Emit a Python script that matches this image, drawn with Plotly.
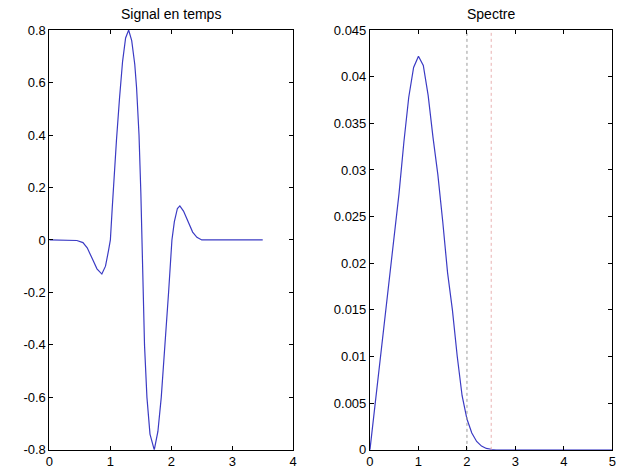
import plotly.graph_objects as go
from plotly.subplots import make_subplots

# signal en temps
t = [0.0, 0.30, 0.45, 0.55, 0.62, 0.70, 0.78, 0.86, 0.92, 0.97, 1.00,
     1.03, 1.06, 1.10, 1.15, 1.20, 1.25, 1.30, 1.35, 1.40, 1.43, 1.47,
     1.50, 1.52, 1.54, 1.56, 1.60, 1.65, 1.72, 1.78, 1.835, 1.90, 1.955,
     2.01, 2.05, 2.10, 2.14, 2.20, 2.27, 2.35, 2.42, 2.50, 3.50]
signal = [0.0, 0.0, -0.002, -0.01, -0.03, -0.07, -0.11, -0.13, -0.10, -0.04, 0.0,
          0.12, 0.25, 0.38, 0.54, 0.68, 0.77, 0.80, 0.76, 0.67, 0.58, 0.40,
          0.18, 0.0, -0.20, -0.40, -0.60, -0.74, -0.80, -0.73, -0.60, -0.40, -0.20,
          0.0, 0.07, 0.12, 0.13, 0.11, 0.07, 0.03, 0.01, 0.0, 0.0]

# spectre
f = [0.0, 0.1, 0.2, 0.3, 0.4, 0.5, 0.6, 0.7, 0.8, 0.9, 1.0, 1.1, 1.2, 1.3,
     1.4, 1.5, 1.6, 1.7, 1.8, 1.9, 2.0, 2.1, 2.2, 2.3, 2.4, 2.5, 2.6, 2.8, 3.0, 5.0]
spectre = [0.0, 0.0046, 0.0092, 0.0138, 0.0182, 0.0225, 0.0275, 0.0330, 0.0378,
           0.0410, 0.0422, 0.0412, 0.0380, 0.0335, 0.0295, 0.0245, 0.0190, 0.0150,
           0.0100, 0.0058, 0.0033, 0.0018, 0.0009, 0.0004, 0.00015, 0.00005, 0.0,
           0.0, 0.0, 0.0]

markers = [2.0, 2.5]
marker_colors = ["#9a9a9a", "#e8b0b0"]

blue = "#3b3bc4"
font = dict(family="Liberation Sans, Arial, sans-serif", size=13, color="black")

fig = make_subplots(rows=1, cols=2)
fig.add_trace(go.Scatter(x=t, y=signal, mode="lines",
                         line=dict(color=blue, width=1.2), showlegend=False), 1, 1)
fig.add_trace(go.Scatter(x=f, y=spectre, mode="lines",
                         line=dict(color=blue, width=1.2), showlegend=False), 1, 2)

for xv, c in zip(markers, marker_colors):
    fig.add_trace(go.Scatter(x=[xv, xv], y=[0, 0.045], mode="lines",
                             line=dict(color=c, width=1, dash="dot"),
                             showlegend=False), 1, 2)

axis_style = dict(showgrid=False, zeroline=False, showline=True, linecolor="black",
                  linewidth=1, mirror="ticks", ticks="inside", ticklen=4,
                  tickcolor="black", tickfont=font)

ydom = [0.031, 0.9495]

fig.update_xaxes(axis_style)
fig.update_yaxes(axis_style)
fig.update_xaxes(range=[0, 4], tickvals=[0, 1, 2, 3, 4], domain=[0.074, 0.471], row=1, col=1)
fig.update_yaxes(range=[-0.8, 0.8], tickvals=[-0.8, -0.6, -0.4, -0.2, 0, 0.2, 0.4, 0.6, 0.8],
                 ticktext=["-0.8", "-0.6", "-0.4", "-0.2", "0", "0.2", "0.4", "0.6", "0.8"],
                 domain=ydom, row=1, col=1)
fig.update_xaxes(range=[0, 5], tickvals=[0, 1, 2, 3, 4, 5], domain=[0.596, 0.991], row=1, col=2)
fig.update_yaxes(range=[0, 0.045],
                 tickvals=[0, 0.005, 0.01, 0.015, 0.02, 0.025, 0.03, 0.035, 0.04, 0.045],
                 ticktext=["0", "0.005", "0.01", "0.015", "0.02", "0.025", "0.03", "0.035", "0.04", "0.045"],
                 domain=ydom, row=1, col=2)

fig.add_annotation(text="Signal en temps", x=(0.074 + 0.471) / 2, y=ydom[1], xref="paper",
                   yref="paper", xanchor="center", yanchor="bottom", showarrow=False,
                   yshift=6, font=dict(family=font["family"], size=14, color="black"))
fig.add_annotation(text="Spectre", x=(0.596 + 0.991) / 2, y=ydom[1], xref="paper",
                   yref="paper", xanchor="center", yanchor="bottom", showarrow=False,
                   yshift=6, font=dict(family=font["family"], size=14, color="black"))

fig.update_layout(width=622, height=472, margin=dict(l=0, r=0, t=0, b=0),
                  plot_bgcolor="white", paper_bgcolor="white", font=font)

fig.write_html("out.html", config={"displayModeBar": False},
               post_script="document.body.style.margin='0';document.body.style.overflow='hidden';")
